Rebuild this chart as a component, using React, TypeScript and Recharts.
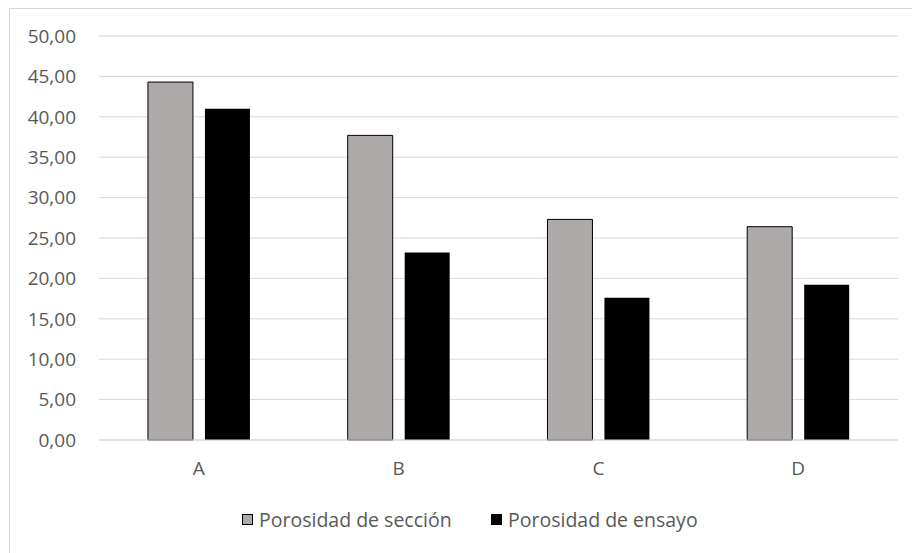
import { Bar, BarChart, CartesianGrid, XAxis, YAxis } from "recharts";

const categories = ["A", "B", "C", "D"];
const seccion = [44.3, 37.7, 27.3, 26.4];
const ensayo = [41.0, 23.2, 17.6, 19.2];
const yTicks = [0, 5, 10, 15, 20, 25, 30, 35, 40, 45, 50];

const data = categories.map((name, i) => ({
  name,
  seccion: seccion[i],
  ensayo: ensayo[i],
}));

const FONT = "'Open Sans', 'Noto Sans', sans-serif";
const TEXT = "#595959";
const GRAY = "#AEAAAA";

function LegendItem({ color, label, left }: { color: string; label: string; left: number }) {
  return (
    <div
      style={{
        position: "absolute",
        left,
        top: 506,
        display: "flex",
        alignItems: "center",
        fontFamily: FONT,
        fontSize: 19.5,
        color: TEXT,
        whiteSpace: "nowrap",
      }}
    >
      <span
        style={{
          width: 11,
          height: 11,
          background: color,
          border: "1px solid #000",
          marginRight: 6,
          boxSizing: "border-box",
        }}
      />
      <span>{label}</span>
    </div>
  );
}

export default function App() {
  return (
    <div style={{ position: "relative", width: 912, height: 553, background: "#fff", overflow: "hidden" }}>
      <style>{`body{margin:0}`}</style>
      <div
        style={{
          position: "absolute",
          left: 9,
          top: 8,
          width: 910,
          height: 560,
          border: "1px solid #d9d9d9",
          boxSizing: "border-box",
        }}
      />
      <div style={{ position: "absolute", left: 0, top: 0 }}>
        <BarChart
          width={912}
          height={553}
          data={data}
          margin={{ top: 36, right: 14, bottom: 0, left: 0 }}
          barGap={12}
          barCategoryGap="24.5%"
        >
          <CartesianGrid vertical={false} stroke="#d9d9d9" />
          <XAxis
            dataKey="name"
            tickLine={false}
            axisLine={{ stroke: "#d9d9d9" }}
            tick={{ fill: TEXT, fontSize: 19, fontFamily: FONT }}
            tickMargin={16}
            height={113}
          />
          <YAxis
            width={99}
            domain={[0, 50]}
            ticks={yTicks}
            interval={0}
            tickLine={false}
            axisLine={false}
            tickMargin={17}
            tick={{ fill: TEXT, fontSize: 19, fontFamily: FONT }}
            tickFormatter={(v: number) => v.toFixed(2).replace(".", ",")}
          />
          <Bar
            dataKey="seccion"
            name="Porosidad de sección"
            fill={GRAY}
            stroke="#000"
            strokeWidth={1}
            isAnimationActive={false}
          />
          <Bar
            dataKey="ensayo"
            name="Porosidad de ensayo"
            fill="#000"
            isAnimationActive={false}
          />
        </BarChart>
      </div>
      <LegendItem color={GRAY} label="Porosidad de sección" left={242} />
      <LegendItem color="#000" label="Porosidad de ensayo" left={491} />
    </div>
  );
}
